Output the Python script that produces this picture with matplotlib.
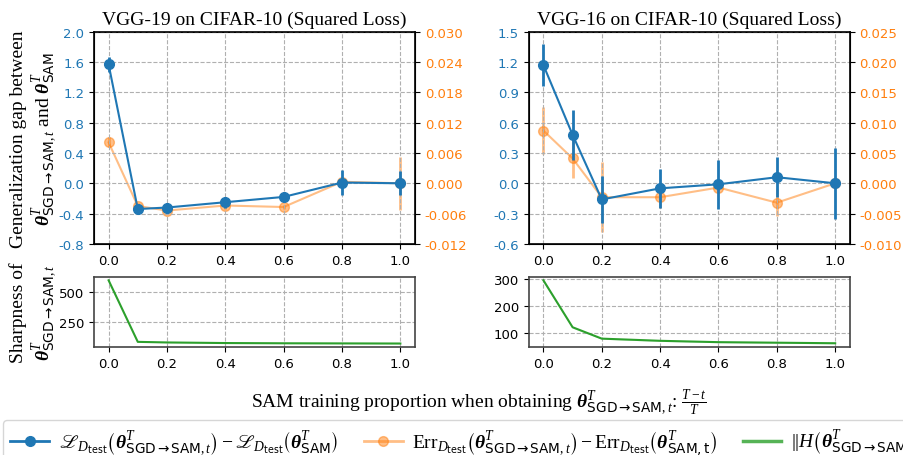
import matplotlib.pyplot as plt
from matplotlib.lines import Line2D
import numpy as np

plt.rcParams['mathtext.fontset'] = 'custom'
plt.rcParams['mathtext.rm'] = 'Liberation Serif'
plt.rcParams['mathtext.it'] = 'Liberation Serif:italic'
plt.rcParams['mathtext.bf'] = 'Liberation Serif:bold'
plt.rcParams['mathtext.bfit'] = 'Liberation Serif:bold:italic'
plt.rcParams['mathtext.sf'] = 'DejaVu Sans'
plt.rcParams['mathtext.fallback'] = 'stix'

# data
x = [0.0, 0.1, 0.2, 0.4, 0.6, 0.8, 1.0]

# VGG-19
loss19 = [1.57, -0.34, -0.32, -0.25, -0.18, 0.01, 0.0]
loss19_err = [0.10, 0.03, 0.06, 0.07, 0.07, 0.17, 0.16]
err19 = [0.0081, -0.0045, -0.0054, -0.0044, -0.0047, 0.0003, 0.0]
err19_err = [0.0010, 0.0005, 0.0006, 0.0007, 0.0004, 0.0004, 0.0053]
sharp19 = [598, 80, 75, 70, 68, 67, 66]

# VGG-16
loss16 = [1.17, 0.48, -0.16, -0.05, -0.01, 0.06, 0.0]
loss16_err = [0.21, 0.245, 0.23, 0.19, 0.24, 0.20, 0.35]
err16 = [0.0087, 0.0041, -0.0023, -0.0023, -0.0007, -0.0032, 0.0]
err16_err = [0.0039, 0.0032, 0.0058, 0.0017, 0.0005, 0.0022, 0.0003]
sharp16 = [295, 122, 80, 72, 67, 65, 63]

titles = ['VGG-19 on CIFAR-10 (Squared Loss)', 'VGG-16 on CIFAR-10 (Squared Loss)']
serif = 'Liberation Serif'
th = r'\boldsymbol{\theta}'
sgd = th + r'^T_{\mathsf{SGD\to SAM},t}'
cal_L = '\u2112'
fs = 14
ts = 9.5

fig = plt.figure(figsize=(9.04, 4.56), dpi=100)

panels = [
    (0.104, loss19, loss19_err, err19, err19_err, sharp19,
     (-0.8, 2.0), np.arange(-0.8, 2.01, 0.4), (-0.012, 0.030), np.arange(-0.012, 0.0301, 0.006), [250, 500]),
    (0.585, loss16, loss16_err, err16, err16_err, sharp16,
     (-0.6, 1.5), np.arange(-0.6, 1.51, 0.3), (-0.010, 0.025), np.arange(-0.010, 0.0251, 0.005), [100, 200, 300]),
]

for i, (left, loss, lerr, err, eerr, sharp, ylim, yt, y2lim, y2t, st) in enumerate(panels):
    ax = fig.add_axes([left, 0.463, 0.355, 0.465])
    ax2 = ax.twinx()
    ax2.errorbar(x, err, yerr=eerr, marker='o', ms=7, lw=1.5, elinewidth=2,
                 color='tab:orange', alpha=0.5)
    ax.errorbar(x, loss, yerr=lerr, marker='o', ms=7, lw=1.5, elinewidth=2,
                color='tab:blue')
    ax.set_zorder(ax2.get_zorder() + 1)
    ax.patch.set_visible(False)
    ax.set_ylim(*ylim)
    ax.set_yticks(yt)
    ax.set_yticklabels(['%.1f' % v for v in yt])
    ax2.set_ylim(*y2lim)
    ax2.set_yticks(y2t)
    ax2.set_yticklabels(['%.3f' % v for v in y2t])
    ax.set_xlim(-0.05, 1.05)
    ax.set_xticks([0.0, 0.2, 0.4, 0.6, 0.8, 1.0])
    ax.grid(True, linestyle='--', color='#b0b0b0')
    ax.tick_params(axis='y', labelcolor='tab:blue', labelsize=ts)
    ax.tick_params(axis='x', labelsize=ts)
    ax2.tick_params(axis='y', labelcolor='tab:orange', labelsize=ts)
    for s in ax.spines.values():
        s.set_linewidth(1.2)
    ax.set_title(titles[i], fontfamily=serif, fontsize=fs)

    bx = fig.add_axes([left, 0.237, 0.355, 0.153])
    bx.plot(x, sharp, color='tab:green', lw=1.5)
    bx.fill_between(x, np.array(sharp) * 0.97, sharp, color='tab:green', alpha=0.2, lw=0)
    bx.set_xlim(-0.05, 1.05)
    bx.set_xticks([0.0, 0.2, 0.4, 0.6, 0.8, 1.0])
    bx.set_yticks(st)
    bx.grid(True, linestyle='--', color='#b0b0b0')
    bx.tick_params(labelsize=ts)
    for s in bx.spines.values():
        s.set_linewidth(1.2)
        s.set_color('#444444')
    if i == 0:
        ax.set_ylabel('Generalization gap between\n$' + sgd + r'$ and $' + th + r'^T_{\mathsf{SAM}}$',
                      fontfamily=serif, fontsize=fs)
        ax.yaxis.set_label_coords(-0.108, 0.5)
        bx.set_ylabel('Sharpness of\n$' + sgd + '$', fontfamily=serif, fontsize=fs)
        bx.yaxis.set_label_coords(-0.108, 0.5)

fig.text(0.53, 0.118, 'SAM training proportion when obtaining $' + sgd + r'$: $\frac{T-t}{T}$',
         fontfamily=serif, fontsize=fs, ha='center', va='center')

handles = [
    Line2D([], [], color='tab:blue', marker='o', ms=7, lw=2),
    Line2D([], [], color='tab:orange', marker='o', ms=7, lw=2, alpha=0.5),
    Line2D([], [], color='tab:green', lw=2.5, alpha=0.8),
]
labels = [
    '$' + cal_L + r'_{D_{\mathsf{test}}}\left(' + sgd + r'\right) - ' + cal_L + r'_{D_{\mathsf{test}}}\left(' + th + r'^T_{\mathsf{SAM}}\right)$',
    r'$\mathrm{Err}_{D_{\mathsf{test}}}\left(' + sgd + r'\right) - \mathrm{Err}_{D_{\mathsf{test}}}\left(' + th + r'^T_{\mathsf{SAM,t}}\right)$',
    r'$||H\left(' + sgd + r'\right)||_2$',
]
fig.legend(handles, labels, loc='upper left', bbox_to_anchor=(0.003, 0.076), ncol=3,
           fontsize=fs, frameon=True, edgecolor='#cccccc', handlelength=2.0,
           handletextpad=0.5, borderaxespad=0, columnspacing=1.3)

fig.savefig('out.png', dpi=100)
